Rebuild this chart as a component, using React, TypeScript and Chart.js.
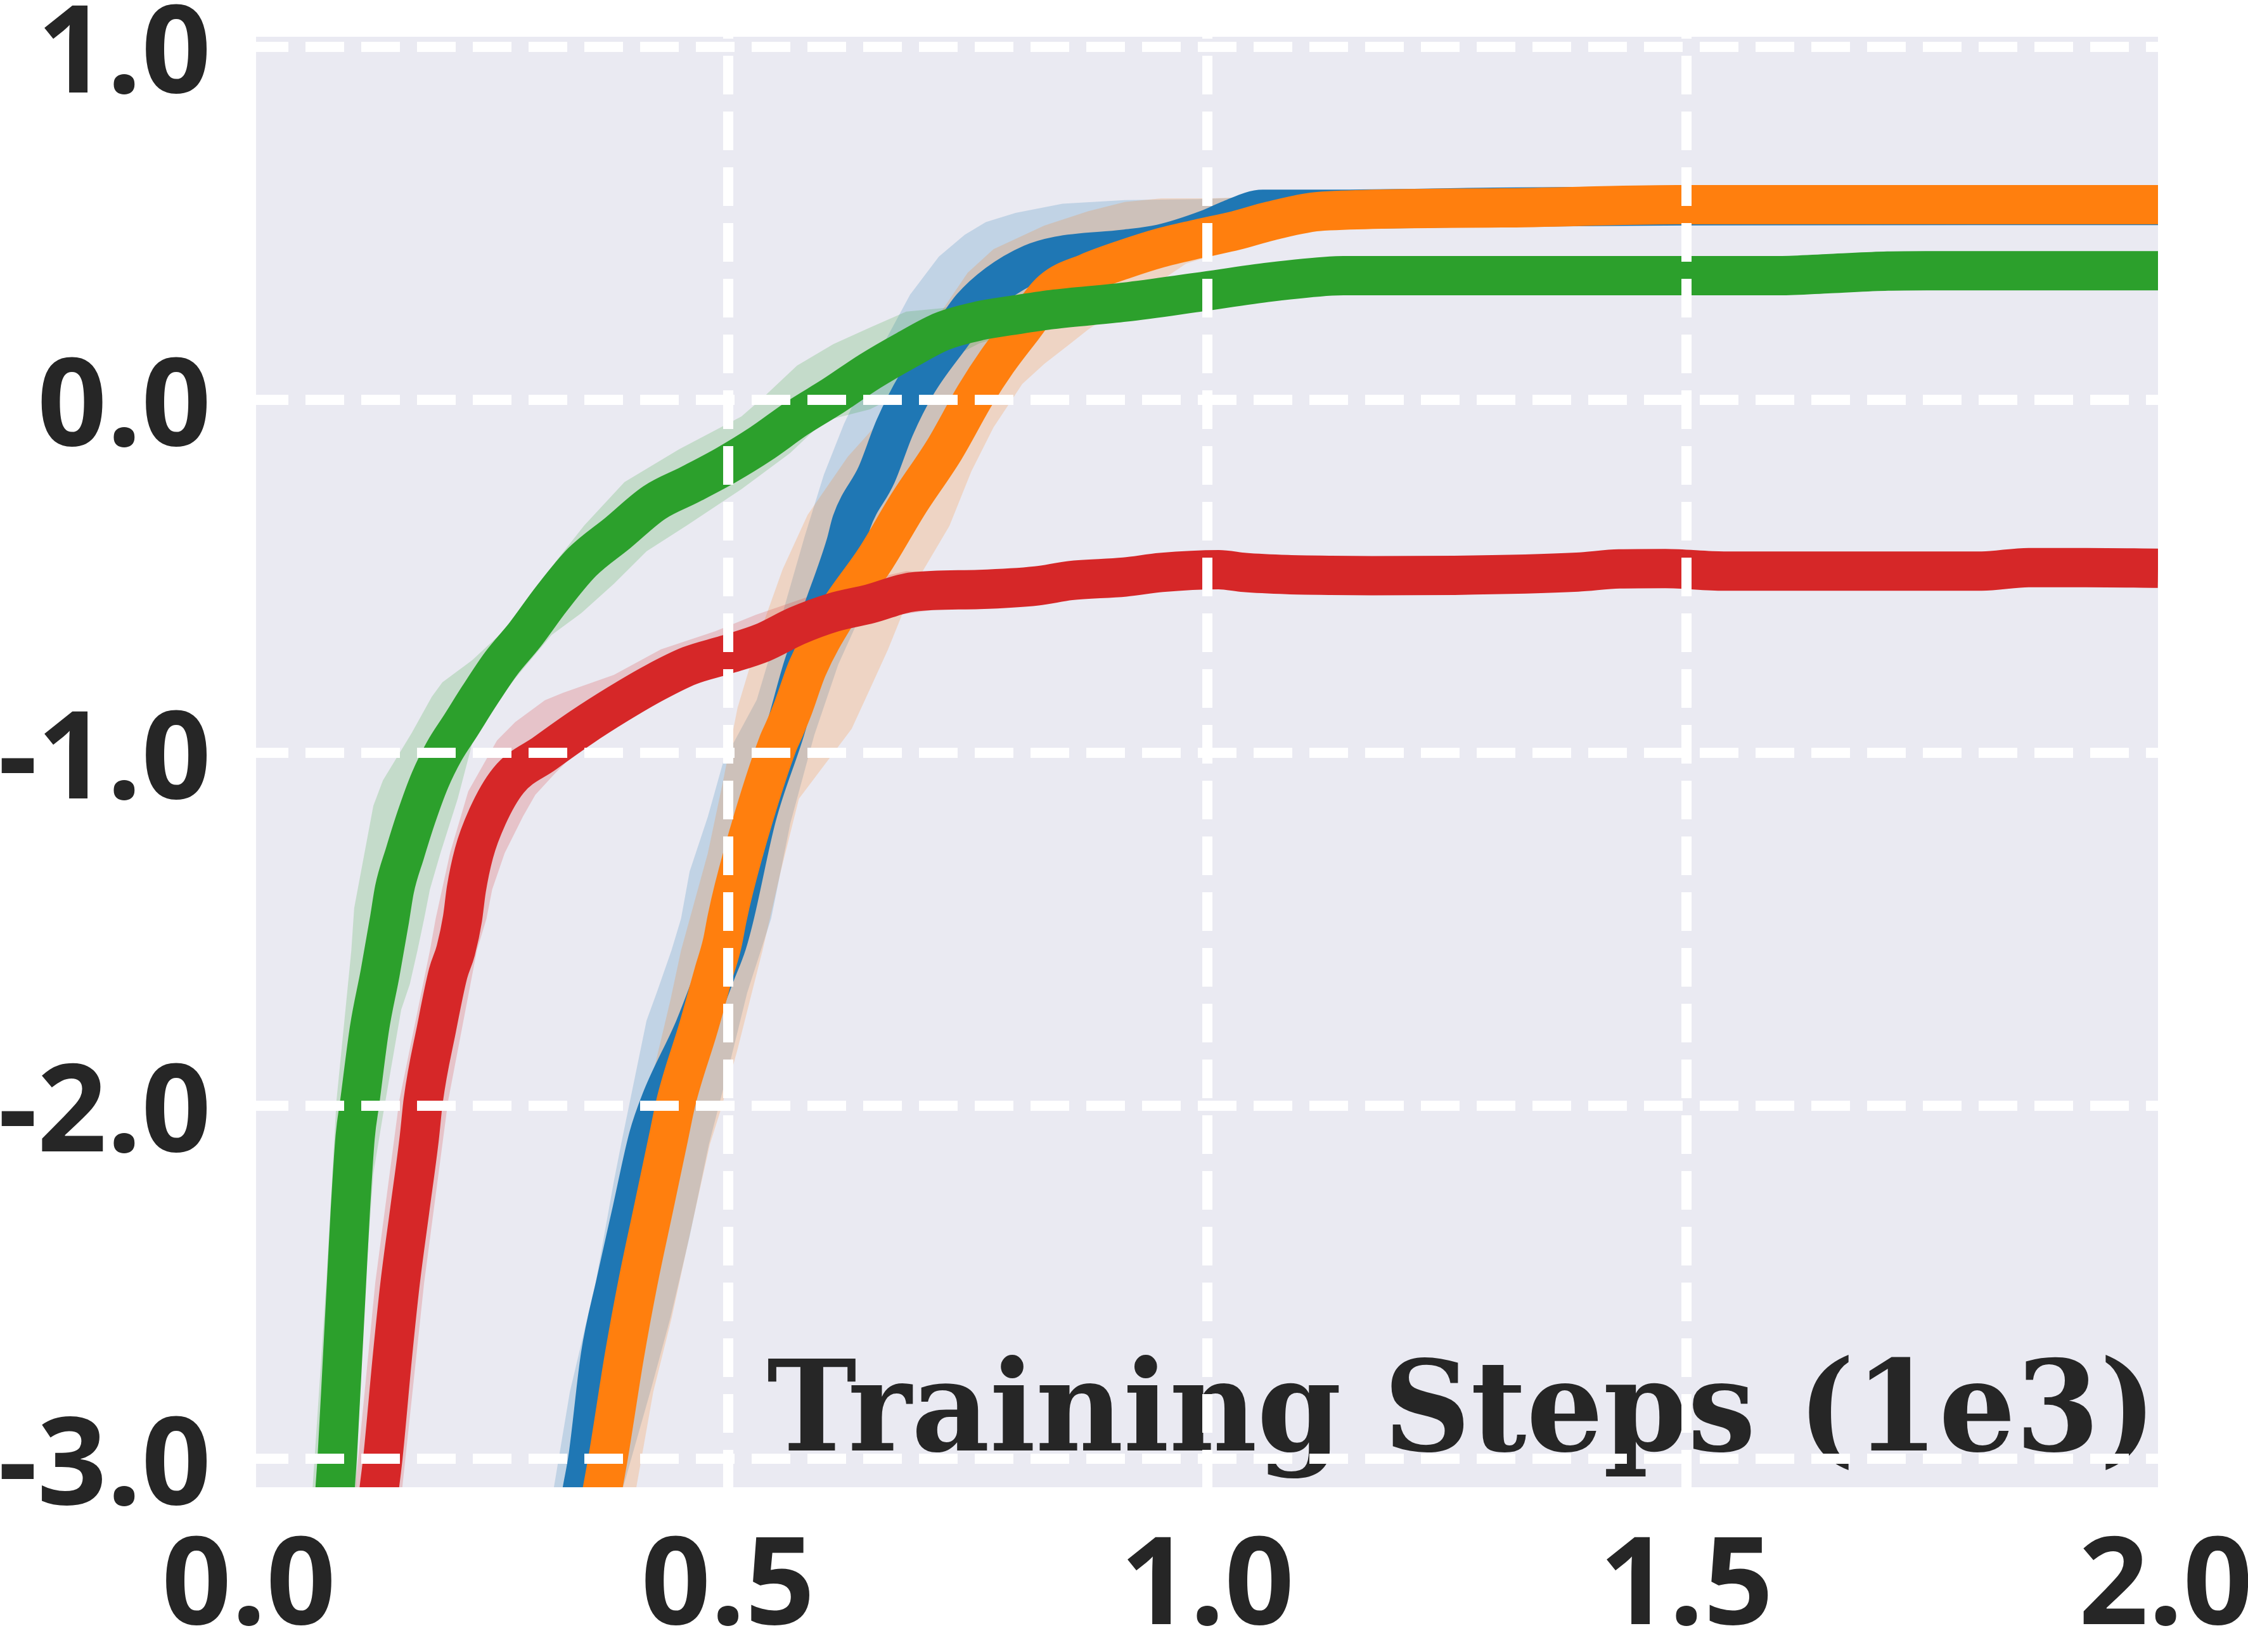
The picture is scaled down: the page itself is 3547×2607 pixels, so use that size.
import React, { useEffect, useRef } from 'react';
import { Chart, registerables } from 'chart.js';

Chart.register(...registerables);

// ---------- axis ticks & labels ----------
const xTickValues = [0, 0.5, 1.0, 1.5, 2.0];
const yTickValues = [-3, -2, -1, 0, 1];
const xTitle = 'Training Steps (1e3)';
const X_MIN = 0.0076;
const X_MAX = 1.992;
const Y_MIN = -3.081;
const Y_MAX = 1.029;

// ---------- blue series ----------
const blueMeanX = [0.334, 0.348, 0.354, 0.367, 0.383, 0.400, 0.417, 0.430, 0.465, 0.487, 0.499, 0.506, 0.530, 0.560, 0.578, 0.598, 0.623, 0.629, 0.655, 0.674, 0.697, 0.735, 0.754, 0.781, 0.817, 0.845, 0.914, 0.952, 1.001, 1.024, 1.058, 1.129, 1.300, 1.500, 1.992];
const blueMeanY = [-3.3, -3.087, -2.996, -2.707, -2.501, -2.295, -2.089, -1.986, -1.780, -1.625, -1.540, -1.470, -1.180, -0.932, -0.759, -0.604, -0.408, -0.346, -0.212, -0.078, 0.045, 0.190, 0.262, 0.329, 0.386, 0.408, 0.427, 0.442, 0.484, 0.511, 0.540, 0.540, 0.546, 0.550, 0.551];
const blueUpperX = [0.310, 0.318, 0.335, 0.362, 0.381, 0.390, 0.415, 0.426, 0.441, 0.451, 0.460, 0.479, 0.495, 0.530, 0.557, 0.580, 0.600, 0.621, 0.648, 0.690, 0.720, 0.747, 0.769, 0.800, 0.849, 0.914, 0.990, 1.058, 1.129, 1.300, 1.500, 1.992];
const blueUpperY = [-3.3, -3.087, -2.811, -2.501, -2.213, -2.089, -1.759, -1.677, -1.560, -1.470, -1.336, -1.181, -1.026, -0.850, -0.604, -0.387, -0.212, -0.068, 0.087, 0.298, 0.406, 0.468, 0.504, 0.530, 0.556, 0.566, 0.569, 0.575, 0.570, 0.575, 0.580, 0.580];
const blueLowerX = [0.310, 0.390, 0.420, 0.440, 0.460, 0.480, 0.500, 0.520, 0.545, 0.565, 0.590, 0.615, 0.640, 0.665, 0.690, 0.715, 0.740, 0.770, 0.800, 0.840, 0.900, 0.960, 1.000, 1.050, 1.129, 1.300, 1.500, 1.992];
const blueLowerY = [-4.5, -3.087, -2.800, -2.600, -2.370, -2.110, -1.900, -1.680, -1.470, -1.200, -0.950, -0.750, -0.600, -0.450, -0.300, -0.150, -0.020, 0.120, 0.240, 0.330, 0.380, 0.405, 0.445, 0.500, 0.515, 0.520, 0.525, 0.525];

// ---------- orange series ----------
const orangeMeanX = [0.355, 0.369, 0.375, 0.392, 0.406, 0.422, 0.438, 0.446, 0.469, 0.485, 0.494, 0.499, 0.506, 0.527, 0.552, 0.559, 0.568, 0.583, 0.614, 0.654, 0.688, 0.726, 0.758, 0.781, 0.807, 0.838, 0.875, 0.914, 0.950, 0.990, 1.030, 1.066, 1.121, 1.307, 1.490, 1.992];
const orangeMeanY = [-3.3, -3.087, -2.996, -2.707, -2.501, -2.295, -2.089, -1.986, -1.780, -1.625, -1.540, -1.470, -1.387, -1.181, -0.975, -0.932, -0.872, -0.759, -0.604, -0.449, -0.295, -0.140, 0.014, 0.110, 0.203, 0.310, 0.360, 0.399, 0.430, 0.456, 0.480, 0.507, 0.535, 0.544, 0.553, 0.553];
const orangeUpperX = [0.330, 0.335, 0.347, 0.369, 0.392, 0.415, 0.440, 0.451, 0.479, 0.495, 0.510, 0.534, 0.557, 0.583, 0.625, 0.659, 0.690, 0.720, 0.750, 0.777, 0.830, 0.876, 0.914, 0.952, 1.005, 1.050, 1.121, 1.307, 1.490, 1.992];
const orangeUpperY = [-3.3, -3.087, -2.914, -2.604, -2.295, -1.986, -1.700, -1.560, -1.284, -1.078, -0.872, -0.655, -0.480, -0.326, -0.161, -0.058, 0.100, 0.240, 0.360, 0.427, 0.494, 0.535, 0.561, 0.571, 0.571, 0.575, 0.570, 0.575, 0.583, 0.583];
const orangeLowerX = [0.330, 0.404, 0.422, 0.441, 0.460, 0.481, 0.493, 0.510, 0.536, 0.555, 0.574, 0.629, 0.648, 0.667, 0.693, 0.731, 0.754, 0.777, 0.807, 0.830, 0.857, 0.876, 0.978, 1.027, 1.066, 1.121, 1.307, 1.490, 1.992];
const orangeLowerY = [-4.5, -3.087, -2.811, -2.604, -2.367, -2.110, -2.007, -1.840, -1.560, -1.336, -1.130, -0.932, -0.820, -0.707, -0.532, -0.357, -0.202, -0.078, 0.045, 0.102, 0.159, 0.200, 0.386, 0.427, 0.460, 0.500, 0.515, 0.523, 0.523];

// ---------- green series ----------
const greenMeanX = [0.085, 0.090, 0.0923, 0.098, 0.102, 0.106, 0.111, 0.116, 0.126, 0.137, 0.147, 0.152, 0.163, 0.175, 0.189, 0.204, 0.221, 0.240, 0.263, 0.288, 0.316, 0.348, 0.385, 0.423, 0.460, 0.498, 0.534, 0.572, 0.610, 0.648, 0.686, 0.724, 0.762, 0.800, 0.838, 0.914, 0.990, 1.066, 1.129, 1.142, 1.597, 1.650, 1.710, 1.750, 1.992];
const greenMeanY = [-3.3, -3.087, -2.996, -2.707, -2.501, -2.295, -2.089, -1.986, -1.780, -1.625, -1.470, -1.387, -1.284, -1.181, -1.078, -0.995, -0.923, -0.841, -0.748, -0.666, -0.563, -0.459, -0.377, -0.291, -0.240, -0.185, -0.125, -0.052, 0.012, 0.081, 0.141, 0.195, 0.224, 0.241, 0.256, 0.277, 0.305, 0.334, 0.351, 0.352, 0.352, 0.358, 0.365, 0.366, 0.366];
const greenUpperX = [0.063, 0.0665, 0.0809, 0.0915, 0.107, 0.110, 0.130, 0.140, 0.170, 0.191, 0.202, 0.233, 0.286, 0.320, 0.350, 0.392, 0.449, 0.514, 0.536, 0.572, 0.610, 0.648, 0.686, 0.724, 0.762, 0.800, 0.838, 0.914, 0.990, 1.066, 1.129, 1.597, 1.750, 1.992];
const greenUpperY = [-3.3, -3.087, -2.501, -1.986, -1.560, -1.440, -1.150, -1.078, -0.944, -0.841, -0.800, -0.738, -0.604, -0.459, -0.356, -0.233, -0.140, -0.047, 0.005, 0.097, 0.158, 0.205, 0.250, 0.260, 0.280, 0.290, 0.300, 0.320, 0.345, 0.370, 0.385, 0.385, 0.395, 0.395];
const greenLowerX = [0.063, 0.112, 0.119, 0.130, 0.140, 0.159, 0.168, 0.176, 0.183, 0.189, 0.200, 0.218, 0.233, 0.255, 0.278, 0.316, 0.347, 0.381, 0.415, 0.457, 0.514, 0.565, 0.600, 0.648, 0.686, 0.724, 0.762, 0.800, 0.838, 0.914, 0.990, 1.066, 1.129, 1.597, 1.750, 1.992];
const greenLowerY = [-3.6, -3.087, -2.604, -2.192, -2.027, -1.728, -1.656, -1.560, -1.470, -1.387, -1.284, -1.130, -0.975, -0.872, -0.789, -0.666, -0.604, -0.521, -0.429, -0.356, -0.253, -0.150, -0.060, -0.027, 0.025, 0.107, 0.160, 0.190, 0.210, 0.235, 0.265, 0.300, 0.320, 0.320, 0.335, 0.335];

// ---------- red series ----------
const redMeanX = [0.127, 0.136, 0.140, 0.150, 0.158, 0.168, 0.178, 0.182, 0.196, 0.208, 0.216, 0.223, 0.227, 0.235, 0.249, 0.271, 0.309, 0.347, 0.385, 0.423, 0.460, 0.498, 0.536, 0.572, 0.610, 0.648, 0.693, 0.762, 0.822, 0.857, 0.914, 0.952, 1.012, 1.039, 1.084, 1.129, 1.173, 1.258, 1.386, 1.430, 1.478, 1.539, 1.808, 1.857, 1.917, 1.992];
const redMeanY = [-3.3, -3.087, -2.996, -2.707, -2.501, -2.295, -2.089, -1.986, -1.780, -1.625, -1.560, -1.470, -1.387, -1.284, -1.181, -1.078, -1.001, -0.928, -0.862, -0.802, -0.753, -0.722, -0.688, -0.640, -0.602, -0.578, -0.544, -0.537, -0.527, -0.512, -0.502, -0.489, -0.481, -0.489, -0.495, -0.497, -0.498, -0.497, -0.488, -0.479, -0.478, -0.485, -0.485, -0.475, -0.475, -0.477];
const redUpperX = [0.104, 0.111, 0.132, 0.157, 0.189, 0.195, 0.210, 0.229, 0.259, 0.278, 0.309, 0.328, 0.381, 0.430, 0.487, 0.529, 0.578, 0.610, 0.686, 0.762, 0.857, 1.012, 1.129, 1.500, 1.992];
const redUpperY = [-3.3, -3.087, -2.501, -1.986, -1.560, -1.470, -1.284, -1.109, -0.965, -0.913, -0.851, -0.830, -0.779, -0.707, -0.655, -0.609, -0.563, -0.532, -0.485, -0.497, -0.470, -0.440, -0.457, -0.440, -0.437];
const redLowerX = [0.104, 0.160, 0.183, 0.208, 0.238, 0.248, 0.254, 0.267, 0.286, 0.299, 0.320, 0.335, 0.358, 0.381, 0.407, 0.460, 0.506, 0.572, 0.648, 0.762, 0.914, 1.012, 1.129, 1.500, 1.992];
const redLowerY = [-3.9, -3.087, -2.501, -1.986, -1.560, -1.470, -1.387, -1.284, -1.181, -1.119, -1.057, -1.016, -0.965, -0.913, -0.872, -0.810, -0.769, -0.680, -0.620, -0.577, -0.540, -0.520, -0.537, -0.520, -0.517];

// ---------- helpers ----------
const pts = (xs: number[], ys: number[]) => xs.map((x, i) => ({ x, y: ys[i] }));

type Series = {
  color: string;
  band: string;
  meanX: number[]; meanY: number[];
  upX: number[]; upY: number[];
  loX: number[]; loY: number[];
  lineOrder: number;
  bandOrder: number;
};

const seriesList: Series[] = [
  { color: '#1f77b4', band: 'rgba(31,119,180,0.2)', meanX: blueMeanX, meanY: blueMeanY, upX: blueUpperX, upY: blueUpperY, loX: blueLowerX, loY: blueLowerY, lineOrder: 3, bandOrder: 17 },
  { color: '#ff7f0e', band: 'rgba(255,127,14,0.2)', meanX: orangeMeanX, meanY: orangeMeanY, upX: orangeUpperX, upY: orangeUpperY, loX: orangeLowerX, loY: orangeLowerY, lineOrder: 2, bandOrder: 16 },
  { color: '#2ca02c', band: 'rgba(44,160,44,0.2)', meanX: greenMeanX, meanY: greenMeanY, upX: greenUpperX, upY: greenUpperY, loX: greenLowerX, loY: greenLowerY, lineOrder: 1, bandOrder: 15 },
  { color: '#d62728', band: 'rgba(214,39,40,0.2)', meanX: redMeanX, meanY: redMeanY, upX: redUpperX, upY: redUpperY, loX: redLowerX, loY: redLowerY, lineOrder: 0, bandOrder: 14 },
];

function buildDatasets() {
  const ds: any[] = [];
  for (const s of seriesList) {
    ds.push({
      data: pts(s.loX, s.loY),
      borderWidth: 0,
      borderColor: 'rgba(0,0,0,0)',
      pointRadius: 0,
      fill: false,
      tension: 0,
      order: s.bandOrder + 10,
      clip: 0,
    });
    ds.push({
      data: pts(s.upX, s.upY),
      borderWidth: 0,
      borderColor: 'rgba(0,0,0,0)',
      backgroundColor: s.band,
      pointRadius: 0,
      fill: '-1',
      tension: 0,
      order: s.bandOrder,
      clip: 0,
    });
  }
  for (const s of seriesList) {
    ds.push({
      data: pts(s.meanX, s.meanY),
      borderColor: s.color,
      backgroundColor: s.color,
      borderWidth: 62,
      borderJoinStyle: 'round',
      borderCapStyle: 'butt',
      cubicInterpolationMode: 'monotone',
      pointRadius: 0,
      fill: false,
      order: s.lineOrder,
      clip: 0,
    });
  }
  return ds;
}

const bgPlugin = {
  id: 'plotBg',
  beforeDraw(chart: any) {
    const { ctx, chartArea: a } = chart;
    ctx.save();
    ctx.fillStyle = '#EAEAF2';
    ctx.fillRect(a.left, a.top, a.right - a.left, a.bottom - a.top);
    ctx.restore();
  },
};

const titlePlugin = {
  id: 'innerXTitle',
  afterDatasetsDraw(chart: any) {
    const { ctx, chartArea: a } = chart;
    ctx.save();
    ctx.font = 'bold 198px "DejaVu Serif", serif';
    const w = ctx.measureText(xTitle).width;
    const targetW = 2193;
    const sx = targetW / w;
    ctx.translate(a.right - 2, a.bottom - 58);
    ctx.scale(sx, 1);
    ctx.textAlign = 'right';
    ctx.textBaseline = 'alphabetic';
    ctx.fillStyle = '#262626';
    ctx.fillText(xTitle, 0, 0);
    ctx.restore();
  },
};

const tickFont = { family: "'Open Sans', 'Noto Sans', sans-serif", size: 192, weight: 'bold' as const };

export default function App() {
  const ref = useRef<HTMLCanvasElement>(null);
  useEffect(() => {
    if (!ref.current) return;
    const chart = new Chart(ref.current, {
      type: 'line',
      data: { datasets: buildDatasets() },
      plugins: [bgPlugin, titlePlugin],
      options: {
        animation: false,
        responsive: false,
        devicePixelRatio: 1,
        layout: { padding: { top: 58, right: 142, left: 0, bottom: 0 } },
        plugins: { legend: { display: false }, tooltip: { enabled: false }, title: { display: false } },
        scales: {
          x: {
            type: 'linear',
            min: X_MIN,
            max: X_MAX,
            bounds: 'data',
            offset: false,
            afterBuildTicks: (scale: any) => { scale.ticks = xTickValues.map((v) => ({ value: v })); },
            afterFit: (scale: any) => {
              scale.height = 260;
              scale.paddingLeft = 0; scale.paddingRight = 0; scale.paddingTop = 0; scale.paddingBottom = 0;
            },
            grid: { color: '#ffffff', lineWidth: 16, drawTicks: false, z: 1 },
            border: { display: false, dash: [61, 27], dashOffset: 58 },
            ticks: {
              autoSkip: false,
              maxRotation: 0,
              minRotation: 0,
              padding: 46,
              color: '#262626',
              font: tickFont,
              callback: (v: any) => Number(v).toFixed(1),
            },
          },
          y: {
            type: 'linear',
            min: Y_MIN,
            max: Y_MAX,
            bounds: 'data',
            afterBuildTicks: (scale: any) => { scale.ticks = yTickValues.map((v) => ({ value: v })); },
            afterFit: (scale: any) => {
              scale.width = 404;
              scale.paddingLeft = 0; scale.paddingRight = 0; scale.paddingTop = 0; scale.paddingBottom = 0;
            },
            grid: { color: '#ffffff', lineWidth: 16, drawTicks: false, z: 1 },
            border: { display: false, dash: [61, 27], dashOffset: 10 },
            ticks: {
              autoSkip: false,
              padding: 71,
              labelOffset: 17,
              color: '#262626',
              font: tickFont,
              callback: (v: any) => Number(v).toFixed(1),
            },
          },
        },
      } as any,
    });
    return () => chart.destroy();
  }, []);
  return (
    <div style={{ position: 'absolute', left: 0, top: 0, width: 3547, height: 2607, background: '#ffffff' }}>
      <canvas ref={ref} width={3547} height={2607} style={{ display: 'block', width: 3547, height: 2607 }} />
    </div>
  );
}
